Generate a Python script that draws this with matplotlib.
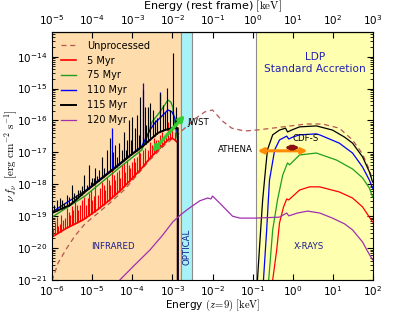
import numpy as np
import matplotlib.pyplot as plt

# all values as log10(E / keV) in the z=9 frame and log10(nu f_nu / erg cm^-2 s^-1)
unproc_logE = [-6.00, -5.85, -5.63, -5.43, -5.18, -4.88, -4.56, -4.18, -3.94, -3.56, -3.19, -2.82,
               -2.44, -2.19, -2.00, -1.75, -1.52, -1.20, -0.90, -0.25, 0.34, 0.74, 1.16, 1.49,
               1.74, 1.91, 1.99]
unproc_logF = [-21.03, -20.47, -20.00, -19.62, -19.24, -18.93, -18.59, -18.15, -17.80, -17.24, -16.77,
               -16.39, -15.95, -15.73, -15.67, -16.02, -16.24, -16.33, -16.30, -16.20, -16.11, -16.11,
               -16.24, -16.61, -17.05, -17.55, -17.87]

# 5 Myr
red_ir_logE = [-6.00, -5.63, -5.23, -4.88, -4.56, -4.26, -3.99, -3.76, -3.56, -3.31, -3.11, -3.01,
               -2.94, -2.866, -2.866]
red_ir_logF = [-19.65, -19.37, -19.12, -18.81, -18.49, -18.15, -17.80, -17.49, -17.18, -16.86, -16.61,
               -16.55, -16.61, -16.70, -23.0]
red_line_logE = [-5.975, -5.925, -5.876, -5.851, -5.801, -5.776, -5.726, -5.677, -5.627, -5.577, -5.552,
                 -5.502, -5.478, -5.428, -5.378, -5.353, -5.303, -5.254, -5.204, -5.154, -5.104, -5.080,
                 -5.030, -5.005, -4.955, -4.930, -4.856, -4.806, -4.756, -4.706, -4.682, -4.632, -4.582,
                 -4.557, -4.507, -4.458, -4.433, -4.383, -4.333, -4.308, -4.259, -4.209, -4.184, -4.134,
                 -4.085, -4.060, -4.010, -3.960, -3.935, -3.886, -3.836, -3.811, -3.736, -3.687, -3.612,
                 -3.562, -3.512, -3.463, -3.413, -3.363, -3.313, -3.264, -3.214, -3.164, -3.114, -3.065,
                 -3.015, -2.940]
red_line_logF = [-19.37, -19.18, -19.03, -19.31, -19.24, -18.96, -19.12, -19.06, -18.74, -18.87, -18.96,
                 -18.68, -18.81, -18.49, -18.65, -18.81, -18.65, -18.49, -18.40, -18.65, -18.43, -18.27,
                 -18.18, -18.49, -18.37, -18.02, -18.34, -18.12, -17.93, -18.02, -18.18, -17.77, -17.87,
                 -18.02, -17.55, -17.71, -17.87, -17.61, -17.55, -17.80, -17.39, -17.33, -17.61, -17.24,
                 -17.39, -17.49, -17.30, -17.18, -17.30, -17.14, -16.92, -17.02, -16.92, -16.86, -16.92,
                 -16.67, -16.77, -16.55, -16.61, -16.61, -16.45, -16.36, -16.55, -16.49, -16.05, -16.24,
                 -16.30, -16.36]
red_x_logE = [-0.50, -0.40, -0.33, -0.23, -0.15, -0.10, 0.17, 0.42, 0.67, 1.16, 1.49, 1.74, 1.91, 1.99]
red_x_logF = [-21.0, -20.06, -19.21, -18.71, -18.46, -18.49, -18.18, -18.08, -18.08, -18.24, -18.43,
              -18.71, -19.03, -19.18]

# 75 Myr
green_ir_logE = [-6.00, -5.18, -4.33, -3.76, -3.61, -3.51, -3.31, -3.19, -3.11, -3.04, -2.99, -2.94,
                 -2.866, -2.866]
green_ir_logF = [-19.03, -18.37, -17.49, -16.92, -16.45, -16.05, -15.73, -15.51, -15.36, -15.42, -15.58,
                 -16.14, -16.61, -23.0]
green_x_logE = [-0.60, -0.50, -0.38, -0.25, -0.13, -0.08, 0.17, 0.59, 1.09, 1.49, 1.74, 1.91, 1.99]
green_x_logF = [-21.0, -19.43, -18.49, -17.71, -17.33, -17.39, -17.08, -17.02, -17.24, -17.52, -17.80,
                -18.12, -18.40]

# 110 Myr
blue_ir_logE = [-6.00, -5.18, -4.33, -3.76, -3.56, -3.44, -3.26, -3.11, -3.01, -2.94, -2.866, -2.866]
blue_ir_logF = [-18.87, -18.21, -17.36, -16.80, -16.30, -16.08, -15.86, -15.67, -15.73, -15.92, -16.45,
                -23.0]
blue_line_logE = [-4.507, -3.736, -3.313]
blue_line_logF = [-16.24, -14.82, -15.11]
blue_x_logE = [-0.73, -0.65, -0.58, -0.45, -0.33, -0.15, -0.10, 0.00, 0.17, 0.59, 0.67, 1.16, 1.49,
               1.74, 1.91, 1.99]
blue_x_logF = [-21.0, -19.43, -17.87, -16.92, -16.61, -16.49, -16.58, -16.52, -16.45, -16.42, -16.45,
               -16.71, -17.02, -17.46, -17.87, -18.12]

# 115 Myr
black_ir_logE = [-6.00, -5.55, -5.18, -4.81, -4.33, -4.06, -3.76, -3.56, -3.36, -3.19, -3.01, -2.866,
                 -2.866]
black_ir_logF = [-18.90, -18.65, -18.24, -17.87, -17.39, -17.11, -16.83, -16.61, -16.39, -16.30, -16.24,
                 -16.24, -23.0]
black_line_logE = [-5.950, -5.876, -5.801, -5.751, -5.701, -5.627, -5.577, -5.502, -5.453, -5.403, -5.353,
                   -5.303, -5.254, -5.204, -5.129, -5.080, -5.030, -5.005, -4.955, -4.930, -4.881, -4.831,
                   -4.756, -4.706, -4.632, -4.557, -4.483, -4.433, -4.383, -4.333, -4.259, -4.209, -4.159,
                   -4.134, -4.085, -4.035, -4.010, -3.935, -3.886, -3.836, -3.811, -3.736, -3.687, -3.662,
                   -3.612, -3.562, -3.488, -3.438, -3.388, -3.313, -3.239, -3.189, -3.139, -3.065, -2.990,
                   -2.915]
black_line_logF = [-18.65, -18.49, -18.43, -18.49, -18.59, -18.34, -18.40, -18.02, -18.27, -18.34, -18.18,
                   -18.18, -18.05, -17.71, -18.02, -17.39, -17.93, -17.80, -17.80, -17.49, -17.74, -17.55,
                   -17.14, -17.49, -16.92, -16.55, -16.99, -16.77, -17.14, -16.71, -16.92, -16.36, -16.92,
                   -16.61, -15.98, -16.61, -15.89, -16.24, -15.83, -16.45, -15.26, -15.04, -15.58, -16.14,
                   -15.58, -15.45, -15.67, -15.98, -15.92, -15.14, -15.51, -15.73, -14.98, -15.67, -13.88,
                   -15.58]
black_x_logE = [-0.88, -0.80, -0.75, -0.68, -0.63, -0.50, -0.33, -0.18, -0.13, -0.03, 0.17, 0.59, 0.99,
                1.29, 1.49, 1.74, 1.91, 1.99]
black_x_logF = [-21.0, -19.43, -18.49, -17.55, -16.92, -16.45, -16.30, -16.24, -16.36, -16.30, -16.20,
                -16.17, -16.30, -16.52, -16.71, -17.14, -17.61, -17.93]

# 120 Myr
purple_logE = [-4.31, -3.94, -3.56, -3.24, -2.99, -2.77, -2.57, -2.32, -2.12, -2.04, -2.00, -1.95, -1.82,
               -1.65, -1.50, -1.32, -0.93, -0.33, -0.15, -0.10, 0.12, 0.37, 0.67, 0.99, 1.29, 1.49,
               1.74, 1.86, 1.99]
purple_logF = [-21.0, -20.53, -20.06, -19.59, -19.18, -18.93, -18.74, -18.52, -18.43, -18.46, -18.37,
               -18.43, -18.59, -18.81, -19.00, -19.06, -19.06, -19.03, -18.90, -18.99, -18.90, -18.84,
               -18.90, -19.06, -19.24, -19.43, -19.81, -20.09, -20.37]

# bands [keV]
ir_band = (1e-7, 1.62e-3)
opt_band = (1.62e-3, 3.05e-3)
xray_band = (0.122, 1e3)

# instrument ranges
jwst_logE = [-3.51, -2.69]
jwst_logF = [-16.99, -15.83]
athena_E = [0.133, 2.33]
athena_F = 1.12e-17
cdfs_E = [0.63, 1.48]
cdfs_F = 1.41e-17

redshift = 9

p = lambda a: 10.0 ** np.asarray(a)

fig = plt.figure(figsize=(4.15, 3.12), dpi=100)
ax = fig.add_axes([0.1253, 0.1026, 0.7735, 0.7948])

ax.axvspan(*ir_band, facecolor='#fedcac', edgecolor='0.55', lw=0.8, zorder=0)
ax.axvspan(*opt_band, facecolor='#a6f2f7', edgecolor='0.55', lw=0.8, zorder=0)
ax.axvspan(*xray_band, facecolor='#ffffb0', edgecolor='0.55', lw=0.8, zorder=0)


def spikes(lE, lF, cE, cF, color, lw=0.8):
    base = np.interp(lE, cE[:-1], cF[:-1])
    ax.vlines(p(lE), p(base), p(lF), color=color, lw=lw)


red, green, blue, purple = '#ff0000', '#1f9e1f', '#0000ff', '#a030b0'

ax.plot(p(unproc_logE), p(unproc_logF), ls=(0, (4, 3)), color='#b85450', lw=0.9, label='Unprocessed')

spikes(red_line_logE, red_line_logF, red_ir_logE, red_ir_logF, red, 0.8)
ax.plot(p(red_ir_logE), p(red_ir_logF), color=red, lw=1.2, label='5 Myr')
ax.plot(p(red_x_logE), p(red_x_logF), color=red, lw=0.9)

ax.plot(p(green_ir_logE), p(green_ir_logF), color=green, lw=1.0, label='75 Myr')
ax.plot(p(green_x_logE), p(green_x_logF), color=green, lw=0.9)

spikes(blue_line_logE, blue_line_logF, blue_ir_logE, blue_ir_logF, blue, 0.9)
ax.plot(p(blue_ir_logE), p(blue_ir_logF), color=blue, lw=1.0, label='110 Myr')
ax.plot(p(blue_x_logE), p(blue_x_logF), color=blue, lw=0.9)

spikes(black_line_logE, black_line_logF, black_ir_logE, black_ir_logF, 'k', 0.8)
ax.plot(p(black_ir_logE), p(black_ir_logF), color='k', lw=1.4, label='115 Myr')
ax.plot(p(black_x_logE), p(black_x_logF), color='k', lw=0.9)

ax.plot(p(purple_logE), p(purple_logF), color=purple, lw=0.9, label='120 Myr')

arrow = dict(arrowstyle='<|-|>', shrinkA=0, shrinkB=0, mutation_scale=8)
ax.annotate('', xy=(p(jwst_logE[1]), p(jwst_logF[1])), xytext=(p(jwst_logE[0]), p(jwst_logF[0])),
            arrowprops=dict(arrow, color='#33cc33', lw=2.4))
ax.annotate('', xy=(athena_E[1], athena_F), xytext=(athena_E[0], athena_F),
            arrowprops=dict(arrow, color='#ff8c00', lw=2.2))
ax.annotate('', xy=(cdfs_E[1], cdfs_F), xytext=(cdfs_E[0], cdfs_F),
            arrowprops=dict(arrow, color='#8b1010', lw=2.0, mutation_scale=6))

ax.text(2.4e-3, 8.9e-17, 'JWST', fontsize=6.2, ha='left', va='center')
ax.text(0.1, 1.19e-17, 'ATHENA', fontsize=6.2, ha='right', va='center')
ax.text(2.08, 2.63e-17, 'CDF-S', fontsize=6.2, ha='center', va='center')

lab = '#1a1a8c'
ax.text(0.19, 0.137, 'INFRARED', transform=ax.transAxes, fontsize=6.2, color=lab, ha='center', va='center')
ax.text(0.42, 0.133, 'OPTICAL', transform=ax.transAxes, fontsize=6.2, color=lab, ha='center', va='center',
        rotation=90)
ax.text(0.80, 0.137, 'X-RAYS', transform=ax.transAxes, fontsize=6.2, color=lab, ha='center', va='center')
ax.text(0.819, 0.899, 'LDP', transform=ax.transAxes, fontsize=7.6, color='#2222b0', ha='center', va='center')
ax.text(0.819, 0.851, 'Standard Accretion', transform=ax.transAxes, fontsize=7.6, color='#2222b0',
        ha='center', va='center')

ax.set_xscale('log')
ax.set_yscale('log')
ax.set_xlim(1e-6, 1e2)
ax.set_ylim(1e-21, 5.94e-14)
ax.set_xticks(10.0 ** np.arange(-6, 3))
ax.set_yticks(10.0 ** np.arange(-21, -13))
ax.xaxis.set_minor_locator(plt.NullLocator())
ax.tick_params(which='both', direction='in', labelsize=7.5, right=True, top=False)
ax.tick_params(which='major', length=4)
ax.tick_params(which='minor', length=2)
ax.tick_params(axis='x', pad=3)
ax.set_xlabel(r'Energy $(z\!=\!9)$ $[\mathrm{keV}]$', fontsize=7.6, math_fontfamily='cm')
ax.xaxis.set_label_coords(0.5, -0.073)
ax.set_ylabel(r'$\nu\, f_{\nu}\ \ [\mathrm{erg\ cm^{-2}\ s^{-1}}]$', fontsize=8, math_fontfamily='cm')
ax.yaxis.set_label_coords(-0.1, 0.5)

# rest-frame energy on top
top = ax.secondary_xaxis('top', functions=(lambda e: e * (1 + redshift), lambda e: e / (1 + redshift)))
top.set_xticks(10.0 ** np.arange(-5, 4))
top.xaxis.set_minor_locator(plt.NullLocator())
top.tick_params(direction='in', labelsize=7.5, length=4)
top.set_xlabel(r'Energy (rest frame) $[\mathrm{keV}]$', fontsize=8, math_fontfamily='cm', labelpad=3)

ax.legend(loc='upper left', frameon=False, fontsize=7, handlelength=1.6, handletextpad=1.1,
          labelspacing=0.5, borderaxespad=0.5)

fig.savefig('out.png', dpi=100)
